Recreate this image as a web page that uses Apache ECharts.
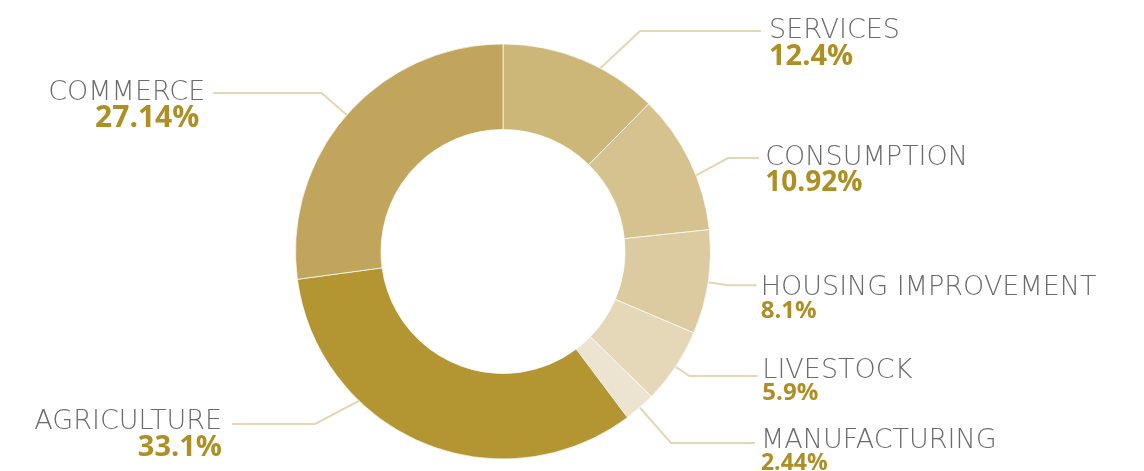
<!DOCTYPE html>
<html>
<head>
<meta charset="utf-8">
<script src="https://cdn.jsdelivr.net/npm/echarts/dist/echarts.min.js"></script>
<style>
html,body{margin:0;padding:0;background:#ffffff;}
#chart{width:1144px;height:471px;}
</style>
</head>
<body>
<div id="chart"></div>
<script>
// ---- data ----
const categories = ['SERVICES', 'CONSUMPTION', 'HOUSING IMPROVEMENT', 'LIVESTOCK', 'MANUFACTURING', 'AGRICULTURE', 'COMMERCE'];
const shares = [12.4, 10.92, 8.1, 5.9, 2.44, 33.1, 27.14];

// ---- styling (per slice) ----
const sliceColors = ['#cdb778', '#d5c28f', '#dccba0', '#e5d8b8', '#ede3d1', '#b39632', '#c1a55c'];
const lineLen = [30.9, 8.1, 20, 16.7, 47.3, 5, 33.3];
const lineLen2 = [167.5, 62, 28.7, 67.9, 83.9, 93, 108.4];
const textGap = [8, 6, 4, 5, 6, 0, 8];
const pctSize = [29, 28, 24, 24, 23, 29, 30];
const padTop = [25, 24, 26, 9, 15, 15, 25];

const NAME_COLOR = '#6b6b6d';
const PCT_COLOR = '#ae8f23';
const LINE_COLOR = '#e3d6b2';

const PIE_CENTER = [503, 251.5];
const PIE_RADIUS = [122, 207.5];

function arcPoint(deg, r) {
  const a = deg * Math.PI / 180;
  return [PIE_CENTER[0] + r * Math.sin(a), PIE_CENTER[1] - r * Math.cos(a)];
}

const seriesData = categories.map(function (name, i) {
  return {
    name: name,
    value: shares[i],
    itemStyle: { color: sliceColors[i] },
    labelLine: { length: lineLen[i], length2: lineLen2[i] },
    label: {
      distanceToLabelLine: textGap[i],
      padding: i === 5 ? [padTop[i], 10, 0, 0] : [padTop[i], 0, 0, 0],
      rich: {
        n: { fontFamily: "'DejaVu Sans'", fontWeight: 200, fontSize: 27, lineHeight: 26, color: NAME_COLOR },
        p: {
          fontFamily: "'Open Sans'", fontWeight: 'bold', fontSize: pctSize[i], lineHeight: pctSize[i] - 4,
          color: PCT_COLOR, padding: i === 6 ? [0, 6, 0, 0] : 0
        }
      }
    }
  };
});

const chart = echarts.init(document.getElementById('chart'), null, { renderer: 'canvas' });
chart.setOption({
  animation: false,
  backgroundColor: '#ffffff',
  series: [{
    type: 'pie',
    center: PIE_CENTER,
    radius: PIE_RADIUS,
    startAngle: 90,
    clockwise: true,
    avoidLabelOverlap: false,
    silent: true,
    itemStyle: { borderColor: 'rgba(255,255,255,0.7)', borderWidth: 1 },
    label: {
      show: true,
      position: 'outside',
      formatter: '{n|{b}}\n{p|{c}%}'
    },
    labelLine: {
      show: true,
      smooth: false,
      lineStyle: { color: LINE_COLOR, width: 2 }
    },
    labelLayout: function (params) {
      const R = PIE_RADIUS[1];
      if (params.dataIndex === 0) {
        return { labelLinePoints: [arcPoint(28, R), [640, 31], [761, 31]] };
      }
      if (params.dataIndex === 1) {
        return { labelLinePoints: [arcPoint(68.5, R), [728, 158], [759, 158]] };
      }
      if (params.dataIndex === 5) {
        return {
          x: 232,
          y: 427,
          labelLinePoints: [arcPoint(224, R), [315, 424], [232, 424]]
        };
      }
      return {};
    },
    data: seriesData
  }]
});
</script>
</body>
</html>
